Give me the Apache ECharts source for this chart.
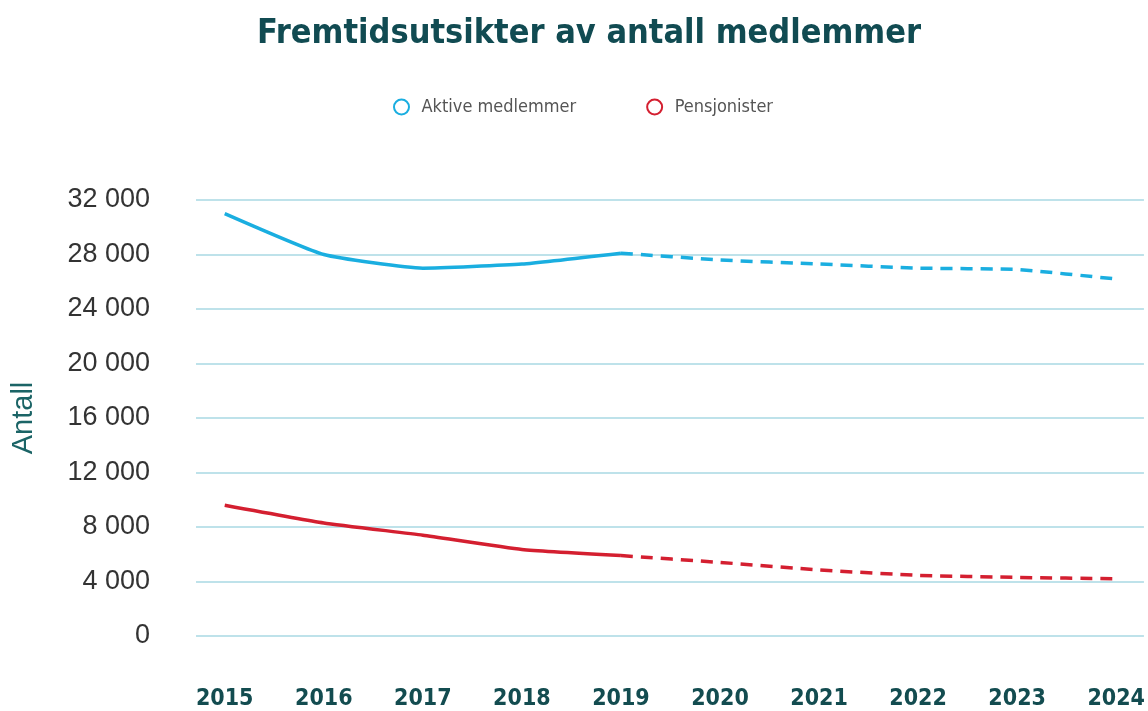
<!DOCTYPE html>
<head>
    <meta charset="utf-8">
    <title>Fremtidsutsikter</title>
    <script src="https://cdn.jsdelivr.net/npm/echarts@6/dist/echarts.min.js"></script>
    <style>
        html, body { margin: 0; padding: 0; background: #fff; }
        #chart { width: 1148px; height: 711px; }
    </style>
</head>
<body>
    <div id="chart"></div>
    <script>
        // data
        var years = [2015, 2016, 2017, 2018, 2019, 2020, 2021, 2022, 2023, 2024];
        var aktive = [31000, 28000, 27000, 27300, 28100, 27600, 27300, 27000, 26900, 26200];
        var pensjonister = [9600, 8300, 7400, 6350, 5900, 5400, 4850, 4450, 4300, 4200];
        var lastActual = 2019; // solid up to here, dashed after
        var yTicks = [0, 4000, 8000, 12000, 16000, 20000, 24000, 28000, 32000];

        var cut = years.indexOf(lastActual);
        function pairs(vals, from, to) {
            var out = [];
            for (var i = from; i <= to; i++) out.push([years[i], vals[i]]);
            return out;
        }

        var blue = '#1aaee0';
        var red = '#d41f30';
        var cond = '"DejaVu Sans Condensed", "DejaVu Sans", sans-serif';
        var arial = '"Liberation Sans", Arial, sans-serif';

        function line(name, color, data, dashed) {
            return {
                name: name,
                type: 'line',
                data: data,
                smooth: 0.15,
                symbol: 'none',
                color: color,
                lineStyle: { color: color, width: 3.5, type: dashed ? [12, 8] : 'solid' },
                emphasis: { disabled: true }
            };
        }

        var chart = echarts.init(document.getElementById('chart'));
        chart.setOption({
            animation: false,
            title: {
                text: 'Fremtidsutsikter av antall medlemmer',
                left: 252,
                top: 12,
                textStyle: { fontFamily: cond, fontWeight: 'bold', fontSize: 34, color: '#114b52' }
            },
            legend: {
                top: 93,
                left: 388,
                itemGap: 70,
                itemWidth: 18,
                itemHeight: 15,
                icon: 'emptyCircle',
                data: ['Aktive medlemmer', 'Pensjonister'],
                textStyle: { fontFamily: cond, fontSize: 18, color: '#555', padding: [0, 0, 0, 6] }
            },
            grid: { left: 196, right: 0, top: 200, bottom: 71 },
            xAxis: {
                type: 'value',
                min: 2014.71,
                max: 2024.28,
                splitLine: { show: false },
                axisLine: { show: false },
                axisTick: { show: false },
                axisLabel: {
                    customValues: years,
                    margin: 52,
                    fontFamily: cond,
                    fontWeight: 'bold',
                    fontSize: 23,
                    color: '#134c50',
                    formatter: function (v) { return String(v); }
                }
            },
            yAxis: {
                type: 'value',
                min: yTicks[0],
                max: yTicks[yTicks.length - 1],
                interval: 4000,
                name: 'Antall',
                nameLocation: 'middle',
                nameGap: 158,
                nameTextStyle: { fontFamily: arial, fontSize: 29, color: '#1b6466' },
                axisLine: { show: false },
                axisTick: { show: false },
                axisLabel: {
                    margin: 46,
                    fontFamily: arial,
                    fontSize: 27,
                    color: '#333',
                    formatter: function (v) {
                        return String(v).replace(/\B(?=(\d{3})+(?!\d))/g, ' ');
                    }
                },
                splitLine: { lineStyle: { color: '#a9d9e3', width: 1.5 } }
            },
            series: [
                line('Aktive medlemmer', blue, pairs(aktive, 0, cut), false),
                line('Pensjonister', red, pairs(pensjonister, 0, cut), false),
                line('Aktive medlemmer', blue, pairs(aktive, cut, years.length - 1), true),
                line('Pensjonister', red, pairs(pensjonister, cut, years.length - 1), true)
            ]
        });
    </script>
</body>
